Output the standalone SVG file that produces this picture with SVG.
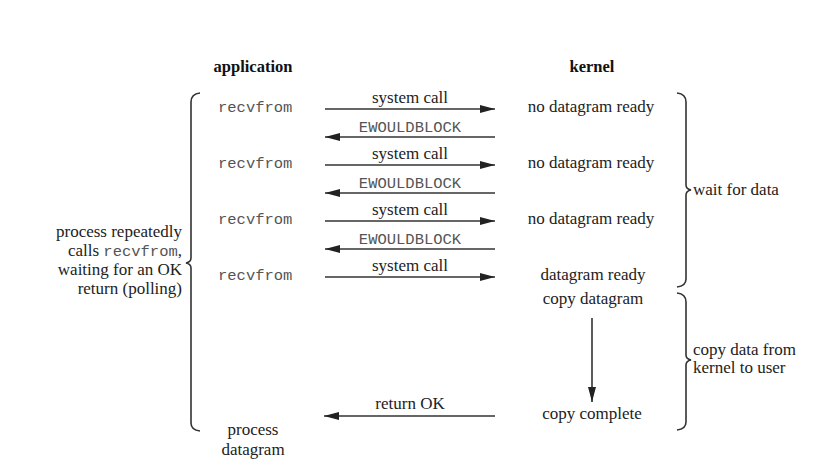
<svg xmlns="http://www.w3.org/2000/svg" width="840" height="474" viewBox="0 0 840 474">
<defs>
<marker id="ah" viewBox="0 0 15 8" refX="15" refY="4" markerWidth="15" markerHeight="8" markerUnits="userSpaceOnUse" orient="auto">
<path d="M0,0 L15,4 L0,8 z" fill="#222"/>
</marker>
<style>
.t{font-family:'Liberation Serif','Times New Roman',serif;font-size:17px;fill:#222}
.b{font-family:'Liberation Serif','Times New Roman',serif;font-size:16.5px;font-weight:bold;fill:#111}
.m{font-family:'Liberation Mono','Courier New',monospace;font-size:15.5px;fill:#555}
.a{stroke:#333;stroke-width:1.6;fill:none;marker-end:url(#ah)}
.br{stroke:#333;stroke-width:1.6;fill:none}
</style>
</defs>
<rect width="840" height="474" fill="#fff"/>
<g id="titles">
<text class="b" x="253" y="72" text-anchor="middle">application</text>
<text class="b" x="592" y="72" text-anchor="middle">kernel</text>
</g>
<g id="app">
<text class="m" x="218" y="112">recvfrom</text>
<text class="m" x="218" y="168">recvfrom</text>
<text class="m" x="218" y="224">recvfrom</text>
<text class="m" x="218" y="280">recvfrom</text>
<text class="t" x="253" y="435" text-anchor="middle">process</text>
<text class="t" x="253" y="455" text-anchor="middle">datagram</text>
</g>
<g id="kernel">
<text class="t" x="591" y="112" text-anchor="middle">no datagram ready</text>
<text class="t" x="591" y="168" text-anchor="middle">no datagram ready</text>
<text class="t" x="591" y="224" text-anchor="middle">no datagram ready</text>
<text class="t" x="593" y="280" text-anchor="middle">datagram ready</text>
<text class="t" x="593" y="304" text-anchor="middle">copy datagram</text>
<text class="t" x="592" y="419" text-anchor="middle">copy complete</text>
</g>
<g id="left-note">
<text class="t" x="182" y="237" text-anchor="end">process repeatedly</text>
<text class="t" x="182" y="256" text-anchor="end">calls <tspan class="m">recvfrom</tspan>,</text>
<text class="t" x="182" y="275" text-anchor="end">waiting for an OK</text>
<text class="t" x="182" y="294" text-anchor="end">return (polling)</text>
</g>
<g id="right-notes">
<text class="t" x="693" y="195">wait for data</text>
<text class="t" x="693" y="355">copy data from</text>
<text class="t" x="693" y="373">kernel to user</text>
</g>
<g id="braces">
<path class="br" d="M200,93 Q191,94 191,102 L191,258 Q191,262 186,263 Q191,264 191,268 L191,423 Q191,430 200,431"/>
<path class="br" d="M677,93 Q686,94 686,102 L686,185 Q686,189 691,190 Q686,191 686,195 L686,279 Q686,286 677,287"/>
<path class="br" d="M677,293 Q686,294 686,302 L686,355 Q686,359 691,360 Q686,361 686,365 L686,422 Q686,429 677,430"/>
</g>
<g id="connectors">
<line class="a" x1="325" y1="109" x2="495" y2="109"/>
<line class="a" x1="495" y1="137" x2="325" y2="137"/>
<line class="a" x1="325" y1="165" x2="495" y2="165"/>
<line class="a" x1="495" y1="193" x2="325" y2="193"/>
<line class="a" x1="325" y1="221" x2="495" y2="221"/>
<line class="a" x1="495" y1="249" x2="325" y2="249"/>
<line class="a" x1="325" y1="277" x2="495" y2="277"/>
<line class="a" x1="592" y1="318" x2="592" y2="402"/>
<line class="a" x1="495" y1="416" x2="324" y2="416"/>
<text class="t" x="410" y="103" text-anchor="middle">system call</text>
<text class="m" x="410" y="132" text-anchor="middle">EWOULDBLOCK</text>
<text class="t" x="410" y="159" text-anchor="middle">system call</text>
<text class="m" x="410" y="188" text-anchor="middle">EWOULDBLOCK</text>
<text class="t" x="410" y="215" text-anchor="middle">system call</text>
<text class="m" x="410" y="244" text-anchor="middle">EWOULDBLOCK</text>
<text class="t" x="410" y="271" text-anchor="middle">system call</text>
<text class="t" x="410" y="409" text-anchor="middle">return OK</text>
</g>
</svg>
